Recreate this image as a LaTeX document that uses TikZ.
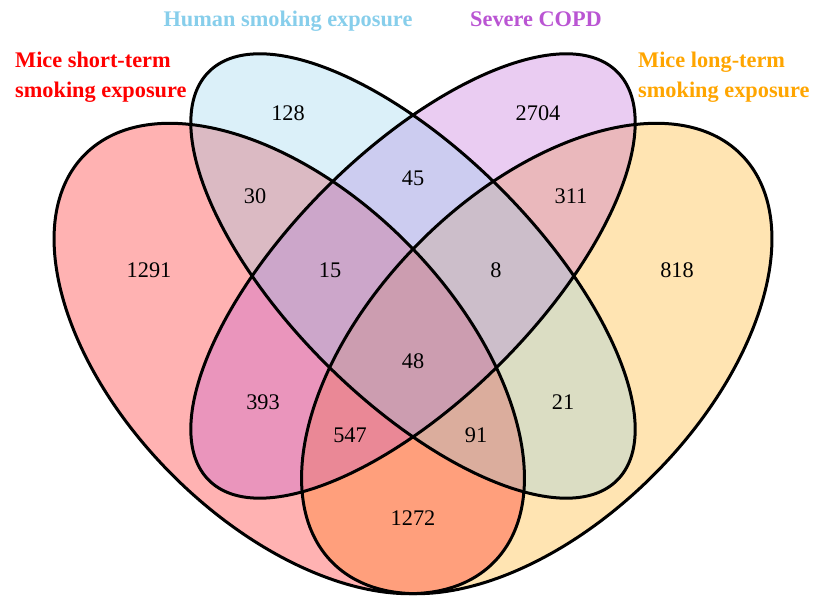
\documentclass[tikz,border=0pt]{standalone}
\usepackage{fontspec}
\setmainfont{Liberation Serif}
\definecolor{setred}{RGB}{255,0,0}
\definecolor{setblue}{RGB}{135,206,235}
\definecolor{setpurple}{RGB}{186,85,211}
\definecolor{setorange}{RGB}{255,165,0}

\begin{document}
\begin{tikzpicture}[x=1bp, y=1bp, every node/.style={font=\fontsize{22.4}{30}\selectfont, inner sep=0pt}, title/.style={font=\fontsize{22.4}{30}\selectfont\bfseries, align=left}, setfill/.style={fill opacity=0.3}, setline/.style={draw=black, line width=3bp}, big/.style={x radius=288.75, y radius=165}, slim/.style={x radius=288.75, y radius=123.75}]
\useasboundingbox (0,0) rectangle (813,596);
\coordinate (r) at (289.25,237.5);
\coordinate (m) at (413,320);
\coordinate (o) at (536.75,237.5);
\fill[setfill, setorange, rotate around={45:(o)}] (o) ellipse [big];
\fill[setfill, setred, rotate around={-45:(r)}] (r) ellipse [big];
\fill[setfill, setpurple, rotate around={45:(m)}] (m) ellipse [slim];
\fill[setfill, setblue, rotate around={-45:(m)}] (m) ellipse [slim];
\draw[setline, rotate around={-45:(r)}] (r) ellipse [big];
\draw[setline, rotate around={-45:(m)}] (m) ellipse [slim];
\draw[setline, rotate around={45:(m)}] (m) ellipse [slim];
\draw[setline, rotate around={45:(o)}] (o) ellipse [big];
\node[title, setred, anchor=west] (tr) at (15,519) {Mice short-term\\smoking exposure};
\node[title, setblue, anchor=base] (tb) at (288,569) {Human smoking exposure};
\node[title, setpurple, anchor=base] (tp) at (536,569) {Severe COPD};
\node[title, setorange, anchor=west] (to) at (638,519) {Mice long-term\\smoking exposure};
\node (b) at (288,483) {128};
\node (p) at (538,483) {2704};
\node (rb) at (255,400) {30};
\node (bp) at (413,418) {45};
\node (po) at (571,400) {311};
\node (rr) at (149,326) {1291};
\node (rbp) at (330,326) {15};
\node (bpo) at (496,326) {8};
\node (oo) at (677,326) {818};
\node (rbpo) at (413,235) {48};
\node (rp) at (263,194) {393};
\node (bo) at (563,194) {21};
\node (rpo) at (350,161) {547};
\node (rbo) at (476,161) {91};
\node (ro) at (413,78) {1272};
\end{tikzpicture}
\end{document}
